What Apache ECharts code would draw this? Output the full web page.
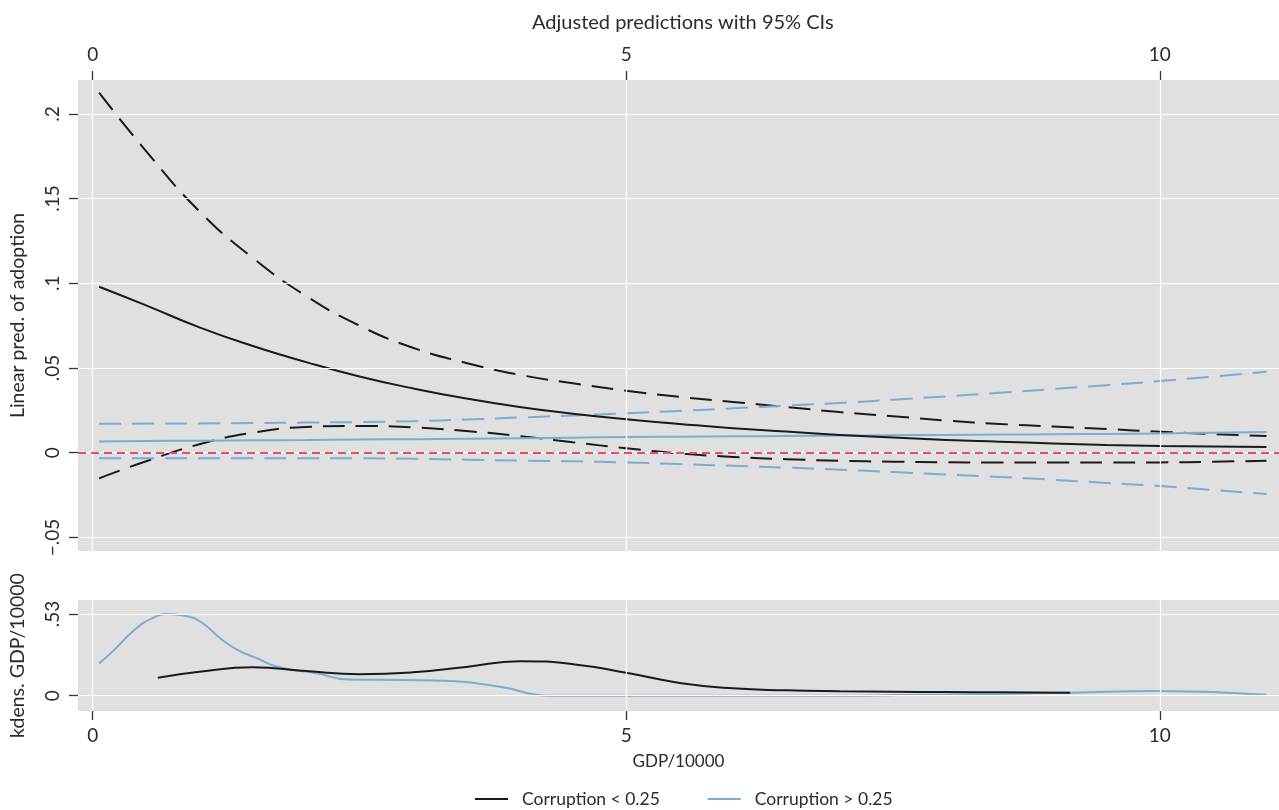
<!DOCTYPE html>
<html>
<head>
<meta charset="utf-8">
<title>Adjusted predictions with 95% CIs</title>
<script src="https://cdn.jsdelivr.net/npm/echarts@6/dist/echarts.min.js"></script>
<style>
  html, body { margin: 0; padding: 0; background: #fff; }
  #myChart { width: 1279px; height: 810px; }
</style>
</head>
<body>
<div id="myChart"></div>
<script>
  // 数据
  const gdp = [0.06, 0.5, 1, 1.5, 2, 2.5, 3, 3.5, 4, 4.5, 5, 5.5, 6, 6.5, 7, 7.5, 8, 8.5, 9, 9.5, 10, 10.5, 11];

  // Corruption < 0.25 : prediction and 95% CI
  const lowPred = [0.098, 0.087, 0.074, 0.063, 0.0535, 0.045, 0.038, 0.032, 0.027, 0.023, 0.0197, 0.017, 0.0145, 0.0125, 0.0105, 0.009, 0.0075, 0.0065, 0.0055, 0.0046, 0.004, 0.0037, 0.0034];
  const lowUpper = [0.2125, 0.178, 0.1425, 0.115, 0.0925, 0.075, 0.062, 0.053, 0.046, 0.041, 0.0366, 0.033, 0.030, 0.027, 0.024, 0.0215, 0.019, 0.017, 0.0155, 0.014, 0.0124, 0.011, 0.0099];
  const lowLower = [-0.0151, -0.005, 0.005, 0.0118, 0.0152, 0.0158, 0.015, 0.0128, 0.0098, 0.0062, 0.0026, -0.0004, -0.0025, -0.0038, -0.0047, -0.0053, -0.0056, -0.0058, -0.0058, -0.0058, -0.0057, -0.0053, -0.0047];

  // Corruption > 0.25 : prediction and 95% CI
  const highPred = [0.0067, 0.0069, 0.0071, 0.0073, 0.0075, 0.0078, 0.008, 0.0083, 0.0086, 0.0089, 0.0093, 0.0095, 0.0097, 0.0099, 0.0101, 0.0103, 0.0105, 0.0107, 0.0109, 0.0111, 0.0114, 0.0118, 0.0122];
  const highUpper = [0.0171, 0.0172, 0.0173, 0.0175, 0.0178, 0.0181, 0.0186, 0.0196, 0.0208, 0.022, 0.0233, 0.0247, 0.0262, 0.0278, 0.0294, 0.0313, 0.0333, 0.0354, 0.0376, 0.0399, 0.0423, 0.045, 0.0478];
  const highLower = [-0.0033, -0.0033, -0.0032, -0.0032, -0.0032, -0.0033, -0.0036, -0.0041, -0.0046, -0.0051, -0.0057, -0.0067, -0.0077, -0.0088, -0.01, -0.0114, -0.0128, -0.0143, -0.016, -0.0178, -0.0197, -0.022, -0.0244];

  // kernel densities of GDP/10000
  const kdLowX = [0.61, 1.0, 1.5, 2.0, 2.5, 3.0, 3.5, 4.0, 4.5, 5.0, 5.5, 6.0, 6.5, 7.0, 7.5, 8.0, 8.5, 9.16];
  const kdLowY = [0.117, 0.155, 0.184, 0.16, 0.14, 0.152, 0.187, 0.224, 0.205, 0.149, 0.083, 0.048, 0.035, 0.029, 0.026, 0.024, 0.022, 0.0195];
  const kdHighX = [0.06, 0.2, 0.39, 0.55, 0.7, 0.85, 1.01, 1.2, 1.36, 1.55, 1.73, 2.1, 2.39, 2.89, 3.36, 3.82, 4.29, 5.5, 7.0, 7.57, 8.5, 9.16, 10.0, 11.0];
  const kdHighY = [0.21, 0.296, 0.426, 0.5, 0.53, 0.52, 0.48, 0.37, 0.296, 0.24, 0.188, 0.145, 0.106, 0.102, 0.095, 0.058, 0.0, 0.0, 0.0, 0.005, 0.012, 0.0195, 0.03, 0.0065];

  // tick labels
  const xTicks = [0, 5, 10];
  const yTicks = [-0.05, 0, 0.05, 0.1, 0.15, 0.2];
  const yTickText = ['\u2212.05', '0', '.05', '.1', '.15', '.2'];
  const kdTicks = [0, 0.53];
  const kdTickText = ['0', '.53'];

  const zip = (xs, ys) => xs.map((x, i) => [x, ys[i]]);
  const pick = (vals, texts) => v => {
    const i = vals.findIndex(t => Math.abs(t - v) < 1e-9);
    return i < 0 ? '' : texts[i];
  };

  const FONT = 'Lato';
  const BLACK = '#1a1a1a';
  const BLUE = '#7aadd0';
  const RED = '#e0506a';
  const TXT = '#2b2b2b';

  const tick = vals => ({ show: true, length: 9, customValues: vals, lineStyle: { color: '#333', width: 1.3 } });
  const noLine = { show: false, onZero: false };

  let myChart = echarts.init(document.getElementById('myChart'));

  const line = (name, data, color, dashed, xi, yi) => ({
    name: name,
    type: 'line',
    xAxisIndex: xi,
    yAxisIndex: yi,
    data: data,
    smooth: true,
    symbol: 'none',
    silent: true,
    z: 3,
    lineStyle: { color: color, width: 2, type: dashed ? [22, 11] : 'solid' },
    itemStyle: { color: color }
  });

  // white grid lines (and the red zero line) drawn as markLines under the data
  const gridLines = (xi, yi, xs, ys, extra) => ({
    name: 'grid' + xi,
    type: 'line',
    xAxisIndex: xi,
    yAxisIndex: yi,
    data: [],
    silent: true,
    z: 1,
    markLine: {
      silent: true, symbol: 'none', animation: false,
      label: { show: false },
      lineStyle: { color: '#ffffff', width: 1.2, type: 'solid' },
      data: xs.map(v => ({ xAxis: v })).concat(ys.map(v => ({ yAxis: v }))).concat(extra || [])
    }
  });

  myChart.setOption({
    backgroundColor: '#ffffff',
    animation: false,
    textStyle: { fontFamily: FONT },
    title: {
      text: 'Adjusted predictions with 95% CIs',
      left: 527,
      top: 8,
      textStyle: { fontFamily: FONT, fontSize: 20, fontWeight: 'normal', color: TXT }
    },
    legend: {
      data: ['Corruption < 0.25', 'Corruption > 0.25'],
      left: 469,
      top: 785,
      itemWidth: 33,
      itemHeight: 2,
      itemGap: 47,
      textStyle: { fontFamily: FONT, fontSize: 17.5, color: TXT, padding: [0, 0, 0, 9] }
    },
    grid: [
      { left: 77, right: 0, top: 80, height: 471, show: true, backgroundColor: '#e0e0e0', borderWidth: 0 },
      { left: 77, right: 0, top: 600, height: 111, show: true, backgroundColor: '#e0e0e0', borderWidth: 0 }
    ],
    xAxis: [
      {
        type: 'value', gridIndex: 0, position: 'top', min: -0.138, max: 11.117,
        axisLine: noLine, axisTick: tick(xTicks),
        axisLabel: { customValues: xTicks, margin: 16, fontSize: 19, color: TXT },
        splitLine: { show: false }
      },
      {
        type: 'value', gridIndex: 1, position: 'bottom', min: -0.138, max: 11.117,
        name: 'GDP/10000', nameLocation: 'middle', nameGap: 42,
        nameTextStyle: { fontSize: 17, color: TXT },
        axisLine: noLine, axisTick: tick(xTicks),
        axisLabel: { customValues: xTicks, margin: 15, fontSize: 19, color: TXT },
        splitLine: { show: false }
      }
    ],
    yAxis: [
      {
        type: 'value', gridIndex: 0, min: -0.058, max: 0.22,
        name: 'Linear pred. of adoption', nameLocation: 'middle', nameGap: 50,
        nameTextStyle: { fontSize: 19.5, color: TXT },
        axisLine: noLine, axisTick: tick(yTicks),
        axisLabel: { customValues: yTicks, rotate: 90, margin: 16, fontSize: 19, color: TXT, formatter: pick(yTicks, yTickText) },
        splitLine: { show: false }
      },
      {
        type: 'value', gridIndex: 1, min: -0.099, max: 0.621,
        name: 'kdens. GDP/10000', nameLocation: 'middle', nameGap: 50,
        nameTextStyle: { fontSize: 19.5, color: TXT },
        axisLine: noLine, axisTick: tick(kdTicks),
        axisLabel: { customValues: kdTicks, rotate: 90, margin: 16, fontSize: 19, color: TXT, formatter: pick(kdTicks, kdTickText) },
        splitLine: { show: false }
      }
    ],
    series: [
      gridLines(0, 0, xTicks, yTicks, [
        { yAxis: 0, lineStyle: { color: RED, width: 2, type: [8, 5] } }
      ]),
      gridLines(1, 1, xTicks, kdTicks),
      line('ci_low_upper', zip(gdp, lowUpper), BLACK, true, 0, 0),
      line('ci_low_lower', zip(gdp, lowLower), BLACK, true, 0, 0),
      line('ci_high_upper', zip(gdp, highUpper), BLUE, true, 0, 0),
      line('ci_high_lower', zip(gdp, highLower), BLUE, true, 0, 0),
      line('pred_high', zip(gdp, highPred), BLUE, false, 0, 0),
      line('Corruption < 0.25', zip(gdp, lowPred), BLACK, false, 0, 0),
      line('Corruption > 0.25', zip(kdHighX, kdHighY), BLUE, false, 1, 1),
      line('Corruption < 0.25', zip(kdLowX, kdLowY), BLACK, false, 1, 1)
    ]
  });
</script>
</body>
</html>
